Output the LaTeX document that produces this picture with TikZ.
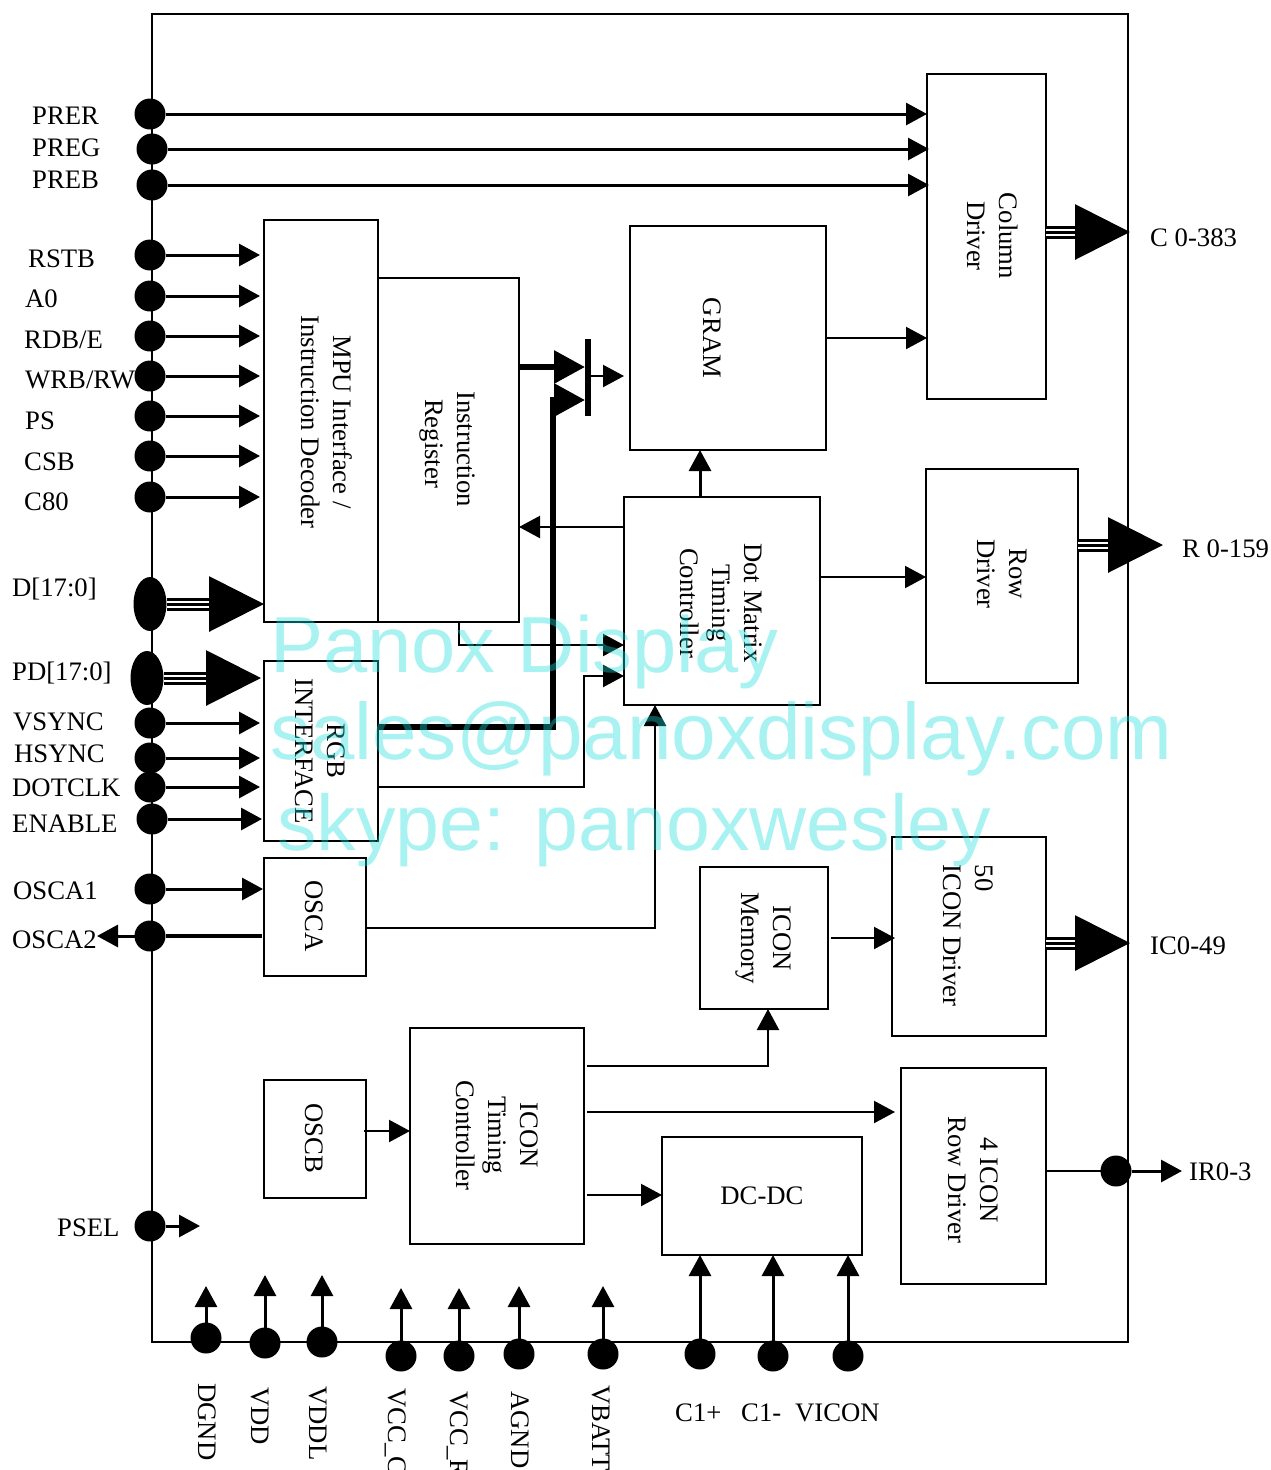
\documentclass[tikz,border=0pt]{standalone}
\usepackage{fontspec}
\setmainfont{Liberation Serif}
\newfontfamily\wmfont{Liberation Sans}
\usetikzlibrary{arrows.meta,positioning,calc,shapes.geometric}
\definecolor{wmcyan}{RGB}{30,220,220}
\tikzset{
  blockbox/.style={draw=black, line width=2.2pt, rectangle, inner sep=0pt, outer sep=0pt},
  blocktext/.style={rotate=-90, inner sep=0pt, align=center},
  pindot/.style={circle, fill=black, minimum size=31pt, inner sep=0pt, outer sep=0pt},
  busdot/.style={ellipse, fill=black, minimum width=33pt, minimum height=54pt, inner sep=0pt, outer sep=0pt},
  pinlabel/.style={anchor=base west, inner sep=0pt},
  downlabel/.style={anchor=base west, rotate=-90, inner sep=0pt},
  pinline/.style={->, line width=3pt},
  thinline/.style={->, line width=2.2pt},
  heavyline/.style={line width=6pt},
  busline/.style={line width=3pt, -{Triangle[length=55pt,width=55pt]},
    preaction={draw, -, line width=3pt, double=white, double distance=7pt, shorten >=50pt}},
  wmtext/.style={anchor=base west, inner sep=0pt, text=wmcyan, text opacity=0.38}
}
\begin{document}
\begin{tikzpicture}[x=1pt, y=-1pt, >={Triangle[length=21pt,width=22pt]}, font=\fontsize{26.7}{32}\selectfont]
\clip (0,0) rectangle (1271,1470);
% chip outline
\node[blockbox, minimum width=976pt, minimum height=1328pt] (chip) at (640,678) {};
% blocks
\node[blockbox, minimum width=114pt, minimum height=402pt] (mpu) at (321,421) {};
\node[blocktext] (mputext) at (326.5,422) {MPU Interface /\\Instruction Decoder};
\node[blockbox, minimum width=141pt, minimum height=344pt] (instr) at (448.5,450) {};
\node[blocktext] (instrtext) at (447,449) {Instruction\\Register\hspace*{11pt}};
\node[blockbox, minimum width=196pt, minimum height=224pt] (gram) at (728,338) {};
\node[blocktext] (gramtext) at (712,338) {GRAM};
\node[blockbox, minimum width=119pt, minimum height=325pt] (coldrv) at (986.5,236.5) {};
\node[blocktext] (coltext) at (993,236) {Column\\Driver};
\node[blockbox, minimum width=152pt, minimum height=214pt] (rowdrv) at (1002,576) {};
\node[blocktext] (rowtext) at (1002,574) {Row\\Driver};
\node[blockbox, minimum width=196pt, minimum height=208pt] (dotmatrix) at (722,601) {};
\node[blocktext] (dottext) at (721.5,603) {Dot Matrix\\Timing\\Controller};
\node[blockbox, minimum width=114pt, minimum height=180pt] (rgb) at (321,751) {};
\node[blocktext] (rgbtext) at (320,751) {RGB\\INTERFACE};
\node[blockbox, minimum width=102pt, minimum height=118pt] (osca) at (315,917) {};
\node[blocktext] (oscatext) at (314,916) {OSCA};
\node[blockbox, minimum width=128pt, minimum height=142pt] (iconmem) at (764,938) {};
\node[blocktext] (memtext) at (763,938) {ICON\\Memory};
\node[blockbox, minimum width=154pt, minimum height=199pt] (icondrv) at (969,936.5) {};
\node[blocktext, align=left] (icontext) at (968,935.5) {50\\ICON Driver};
\node[blockbox, minimum width=102pt, minimum height=118pt] (oscb) at (315,1139) {};
\node[blocktext] (oscbtext) at (314,1138) {OSCB};
\node[blockbox, minimum width=174pt, minimum height=216pt] (icontim) at (497,1136) {};
\node[blocktext] (timtext) at (497,1135) {ICON\\Timing\\Controller};
\node[blockbox, minimum width=200pt, minimum height=118pt] (dcdc) at (762,1196) {DC-DC};
\node[blockbox, minimum width=145pt, minimum height=216pt] (iconrow) at (973.5,1176) {};
\node[blocktext] (iconrowtext) at (973,1180) {4 ICON\\Row Driver};
\node[rectangle, fill=black, minimum width=6pt, minimum height=77pt, inner sep=0pt, outer sep=0pt] (muxbar) at (588,377.5) {};
% pins on the left side
\node[pindot] (prer) at (150,114) {};
\node[pindot] (preg) at (152,149) {};
\node[pindot] (preb) at (152,185) {};
\node[pindot] (rstb) at (150,255) {};
\node[pindot] (azero) at (150,296) {};
\node[pindot] (rdb) at (150,336) {};
\node[pindot] (wrb) at (150,376) {};
\node[pindot] (ps) at (150,416) {};
\node[pindot] (csb) at (150,456) {};
\node[pindot] (ceighty) at (150,497) {};
\node[busdot] (dbus) at (150,604) {};
\node[busdot] (pdbus) at (147,678) {};
\node[pindot] (vsync) at (150,723) {};
\node[pindot] (hsync) at (150,758) {};
\node[pindot] (dotclk) at (150,787) {};
\node[pindot] (enable) at (152,819) {};
\node[pindot] (oscaone) at (150,889) {};
\node[pindot] (oscatwo) at (150,936) {};
\node[pindot] (psel) at (150,1226) {};
\node[pinlabel] (lprer) at (32,124) {PRER};
\node[pinlabel] (lpreg) at (32,156) {PREG};
\node[pinlabel] (lpreb) at (32,188) {PREB};
\node[pinlabel] (lrstb) at (28,267) {RSTB};
\node[pinlabel] (lazero) at (25,307) {A0};
\node[pinlabel] (lrdb) at (24,348) {RDB/E};
\node[pinlabel] (lwrb) at (25,388) {WRB/RW};
\node[pinlabel] (lps) at (25,429) {PS};
\node[pinlabel] (lcsb) at (24,470) {CSB};
\node[pinlabel] (lceighty) at (24,510) {C80};
\node[pinlabel] (ldbus) at (12,596) {D[17:0]};
\node[pinlabel] (lpdbus) at (12,680) {PD[17:0]};
\node[pinlabel] (lvsync) at (13,730) {VSYNC};
\node[pinlabel] (lhsync) at (14,762) {HSYNC};
\node[pinlabel] (ldotclk) at (12,796) {DOTCLK};
\node[pinlabel] (lenable) at (12,832) {ENABLE};
\node[pinlabel] (loscaone) at (13,899) {OSCA1};
\node[pinlabel] (loscatwo) at (12,948) {OSCA2};
\node[pinlabel] (lpsel) at (57,1236) {PSEL};
% pin arrows
\draw[pinline] (prer) -- (prer -| coldrv.west);
\draw[pinline, shorten >=-2pt] (preg) -- (preg -| coldrv.west);
\draw[pinline, shorten >=-2pt] (preb) -- (preb -| coldrv.west);
\draw[pinline, shorten >=4pt] (rstb) -- (rstb -| mpu.west);
\draw[pinline, shorten >=4pt] (azero) -- (azero -| mpu.west);
\draw[pinline, shorten >=4pt] (rdb) -- (rdb -| mpu.west);
\draw[pinline, shorten >=4pt] (wrb) -- (wrb -| mpu.west);
\draw[pinline, shorten >=4pt] (ps) -- (ps -| mpu.west);
\draw[pinline, shorten >=4pt] (csb) -- (csb -| mpu.west);
\draw[pinline, shorten >=4pt] (ceighty) -- (ceighty -| mpu.west);
\draw[busline] (dbus) -- (dbus -| mpu.west);
\draw[busline, shorten >=3pt] (pdbus) -- (pdbus -| rgb.west);
\draw[pinline, shorten >=4pt] (vsync) -- (vsync -| rgb.west);
\draw[pinline, shorten >=4pt] (hsync) -- (hsync -| rgb.west);
\draw[pinline, shorten >=4pt] (dotclk) -- (dotclk -| rgb.west);
\draw[pinline, shorten >=2pt] (enable) -- (enable -| rgb.west);
\draw[pinline, shorten >=1pt] (oscaone) -- (oscaone -| osca.west);
\coordinate (oscatip) at (97,936);
\draw[line width=4pt, shorten <=2pt] (oscatwo -| osca.west) -- (oscatwo);
\draw[pinline] (oscatwo) -- (oscatip);
\coordinate (pseltip) at (200,1226);
\draw[pinline] (psel) -- (pseltip);
% internal connectors
\coordinate (muxa) at (585,367);
\coordinate (muxb) at (585,400);
\coordinate (rgbout) at (378,727);
\coordinate (busturn) at (553,727);
\draw[heavyline, -{Triangle[length=31pt,width=32pt]}] (instr.east |- muxa) -- (muxa);
\draw[heavyline, -{Triangle[length=31pt,width=32pt]}] (rgbout) -- (busturn) -- (busturn |- muxb) -- (muxb);
\coordinate (gramin) at (624,376);
\draw[thinline] (muxbar.east |- gramin) -- (gramin);
\draw[thinline] (gram) -- (gram -| coldrv.west);
\draw[pinline] ([xshift=-22pt]dotmatrix.north) -- ([xshift=-28pt]gram.south);
\coordinate (instrback) at (624,527);
\draw[thinline] (instrback) -- (instr.east |- instrback);
\coordinate (dotina) at (624,645);
\coordinate (dotinb) at (624,676);
\coordinate (rgbturn) at (584,787);
\coordinate (instrout) at (459,622);
\draw[thinline] (instrout) |- (dotina);
\draw[thinline] (rgb.east |- rgbturn) -- (rgbturn) |- (dotinb);
\coordinate (oscaturn) at (655,928);
\draw[thinline] (osca.east |- oscaturn) -- (oscaturn) -- (oscaturn |- dotmatrix.south);
\coordinate (rowin) at (926,577);
\draw[thinline] (dotmatrix.east |- rowin) -- (rowin);
\draw[thinline, shorten >=-3pt, shorten <=3pt] (iconmem) -- (iconmem -| icondrv.west);
\coordinate (memturn) at (768,1066);
\draw[thinline, shorten <=3pt] (icontim.east |- memturn) -- (memturn) -- (memturn |- iconmem.south);
\coordinate (rowtip) at (895,1112);
\draw[thinline, shorten <=3pt] (icontim.east |- rowtip) -- (rowtip);
\coordinate (dcin) at (662,1195);
\draw[thinline, shorten <=3pt] (icontim.east |- dcin) -- (dcin);
\coordinate (oscbout) at (410,1131);
\draw[thinline, shorten <=-2pt] (oscb.east |- oscbout) -- (oscbout);
% bus outputs
\coordinate (ctip) at (1130,232);
\coordinate (rtip) at (1163,545);
\coordinate (ictip) at (1130,943);
\draw[busline] (coldrv.east |- ctip) -- (ctip);
\draw[busline] (rowdrv.east |- rtip) -- (rtip);
\draw[busline] (icondrv.east |- ictip) -- (ictip);
\node[pinlabel] (lctip) at (1150,246) {C 0-383};
\node[pinlabel] (lrtip) at (1182,557) {R 0-159};
\node[pinlabel] (lictip) at (1150,954) {IC0-49};
% icon row output
\node[pindot] (irdot) at (1116,1171) {};
\coordinate (irtip) at (1182,1171);
\draw[line width=2.2pt] (iconrow.east |- irdot) -- (irdot);
\draw[pinline] (irdot) -- (irtip);
\node[pinlabel] (lirtip) at (1189,1180) {IR0-3};
% pins on the bottom side
\node[pindot] (dgnd) at (206,1338) {};
\node[pindot] (vdd) at (265,1343) {};
\node[pindot] (vddl) at (322,1342) {};
\node[pindot] (vccc) at (401,1356) {};
\node[pindot] (vccr) at (459,1356) {};
\node[pindot] (agnd) at (519,1354) {};
\node[pindot] (vbatt) at (603,1354) {};
\node[pindot] (cplus) at (700,1354) {};
\node[pindot] (cminus) at (773,1356) {};
\node[pindot] (vicon) at (848,1356) {};
\coordinate (dgndtip) at (206,1286);
\coordinate (vddtip) at (265,1275);
\coordinate (vddltip) at (322,1275);
\coordinate (vccctip) at (401,1288);
\coordinate (vccrtip) at (459,1288);
\coordinate (agndtip) at (519,1286);
\coordinate (vbatttip) at (603,1286);
\draw[pinline] (dgnd) -- (dgndtip);
\draw[pinline] (vdd) -- (vddtip);
\draw[pinline] (vddl) -- (vddltip);
\draw[pinline] (vccc) -- (vccctip);
\draw[pinline] (vccr) -- (vccrtip);
\draw[pinline] (agnd) -- (agndtip);
\draw[pinline] (vbatt) -- (vbatttip);
\draw[pinline] (cplus) -- (cplus |- dcdc.south);
\draw[pinline] (cminus) -- (cminus |- dcdc.south);
\draw[pinline] (vicon) -- (vicon |- dcdc.south);
\node[downlabel] (ldgnd) at (198.5,1383) {DGND};
\node[downlabel] (lvdd) at (251.5,1387) {VDD};
\node[downlabel] (lvddl) at (309.5,1386) {VDDL};
\node[downlabel] (lvccc) at (388.5,1388) {VCC\_C};
\node[downlabel] (lvccr) at (450.5,1391) {VCC\_R};
\node[downlabel] (lagnd) at (511.5,1391) {AGND};
\node[downlabel] (lvbatt) at (592.5,1385) {VBATT};
\node[pinlabel] (lcplus) at (675,1421) {C1+};
\node[pinlabel] (lcminus) at (741,1421) {C1-};
\node[pinlabel] (lvicon) at (795,1421) {VICON};
% watermark
\node[wmtext, font=\wmfont\fontsize{79.5}{90}\selectfont] (wmone) at (270,672) {Panox Display};
\node[wmtext, font=\wmfont\fontsize{80}{90}\selectfont] (wmtwo) at (270,759) {sales@panoxdisplay.com};
\node[wmtext, font=\wmfont\fontsize{79}{90}\selectfont] (wmthree) at (277,850) {skype: panoxwesley};
\end{tikzpicture}
\end{document}
